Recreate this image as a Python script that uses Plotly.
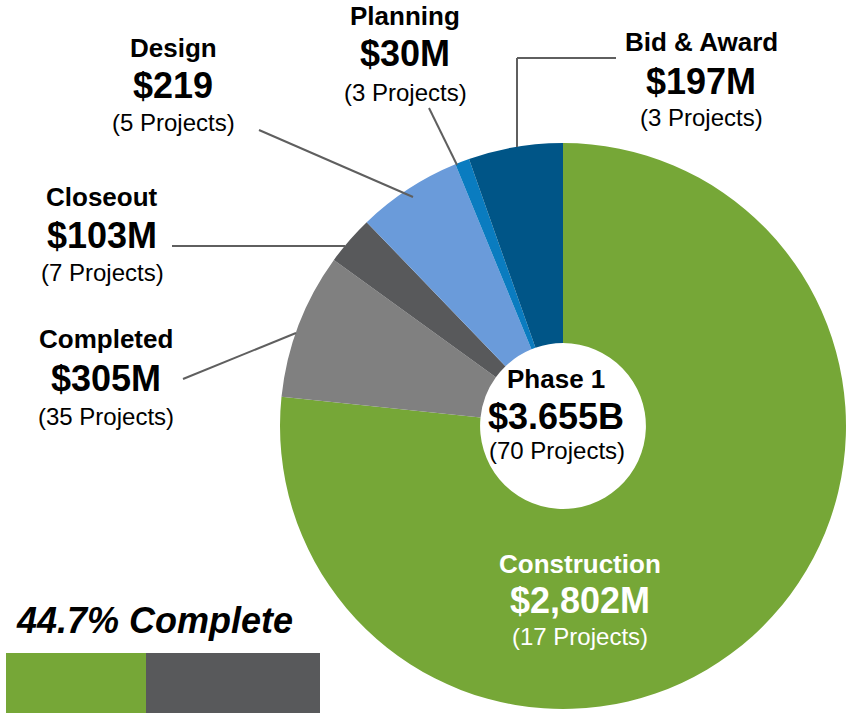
import plotly.graph_objects as go

# Phase 1 program, budget by stage ($M)
phases = ['Construction', 'Completed', 'Closeout', 'Design', 'Planning', 'Bid & Award']
values = [2802, 305, 103, 219, 30, 197]
projects = [17, 35, 7, 5, 3, 3]
value_labels = ['$2,802M', '$305M', '$103M', '$219', '$30M', '$197M']
colors = ['#76A737', '#808080', '#58595B', '#6A9BDA', '#0A7CC0', '#005587']

# progress bar
progress_labels = ['Complete', 'Remaining']
progress_values = [44.7, 55.3]
progress_colors = ['#76A737', '#58595B']

total_label = '$3.655B'
total_projects = 70

W, H = 846, 713
FONT = 'Liberation Sans, Arial, sans-serif'
LINE_COLOR = '#5F5F5F'


def px(x):
    return x / W


def py(y):
    return 1 - y / H


# label placement in pixels: centre x, then line centres (name, value, projects)
label_pos = {
    'Construction': (580, 564, 600, 636),
    'Completed': (106, 339, 378, 416),
    'Closeout': (102, 197, 235, 272),
    'Design': (173, 48, 86, 123),
    'Planning': (405, 16, 54, 92),
    'Bid & Award': (701, 42, 81, 118),
}

# leader lines as pixel polylines
leaders = {
    'Completed': [(183, 379), (296, 333)],
    'Closeout': [(172, 246), (345, 246)],
    'Design': [(259, 130), (413, 197)],
    'Planning': [(429, 108), (457, 165)],
    'Bid & Award': [(616, 58), (517, 58), (517, 147)],
}

fig = go.Figure()

fig.add_trace(go.Pie(
    labels=phases,
    values=values,
    sort=False,
    direction='clockwise',
    rotation=0,
    hole=0.293,
    marker=dict(colors=colors, line=dict(width=0)),
    textinfo='none',
    hovertemplate='<b>%{label}</b><br>%{value}M<extra></extra>',
    domain=dict(x=[px(280), px(846)], y=[py(709), py(143)]),
    showlegend=False
))

for name, val, col in zip(progress_labels, progress_values, progress_colors):
    fig.add_trace(go.Bar(
        x=[val],
        y=['p'],
        orientation='h',
        marker=dict(color=col, line=dict(width=0)),
        name=name,
        showlegend=False,
        hovertemplate=name + ': %{x}%<extra></extra>',
        xaxis='x',
        yaxis='y'
    ))

annotations = []


def add_text(text, x, y, size, color='black', bold=False, italic=False):
    if bold:
        text = '<b>' + text + '</b>'
    if italic:
        text = '<i>' + text + '</i>'
    annotations.append(dict(
        text=text, x=px(x), y=py(y), xref='paper', yref='paper',
        xanchor='center', yanchor='middle', showarrow=False,
        font=dict(family=FONT, size=size, color=color)
    ))


for name, vlabel, n in zip(phases, value_labels, projects):
    cx, y1, y2, y3 = label_pos[name]
    c = 'white' if name == 'Construction' else 'black'
    add_text(name, cx, y1, 26, c, bold=True)
    add_text(vlabel, cx, y2, 36, c, bold=True)
    add_text('(%d Projects)' % n, cx, y3, 24, c)

# centre of the donut
add_text('Phase 1', 556, 379, 26, bold=True)
add_text(total_label, 556, 416, 36, bold=True)
add_text('(%d Projects)' % total_projects, 557, 451, 24)

add_text('%.1f%% Complete' % progress_values[0], 154, 620, 36, bold=True, italic=True)

shapes = []
for name, pts in leaders.items():
    for (x0, y0), (x1, y1) in zip(pts[:-1], pts[1:]):
        shapes.append(dict(
            type='line', xref='paper', yref='paper',
            x0=px(x0), y0=py(y0), x1=px(x1), y1=py(y1),
            line=dict(color=LINE_COLOR, width=2)
        ))

fig.update_layout(
    width=W,
    height=H,
    margin=dict(l=0, r=0, t=0, b=0),
    paper_bgcolor='white',
    plot_bgcolor='white',
    barmode='stack',
    bargap=0,
    xaxis=dict(domain=[px(6), px(320)], range=[0, 100], visible=False, fixedrange=True),
    yaxis=dict(domain=[0, py(653)], range=[-0.5, 0.5], visible=False, fixedrange=True),
    annotations=annotations,
    shapes=shapes,
    font=dict(family=FONT)
)

# drop the browser's default body margin so the figure sits at the page corner
fig.write_html('out.html', config={'displayModeBar': False},
               post_script="document.body.style.margin='0';")
